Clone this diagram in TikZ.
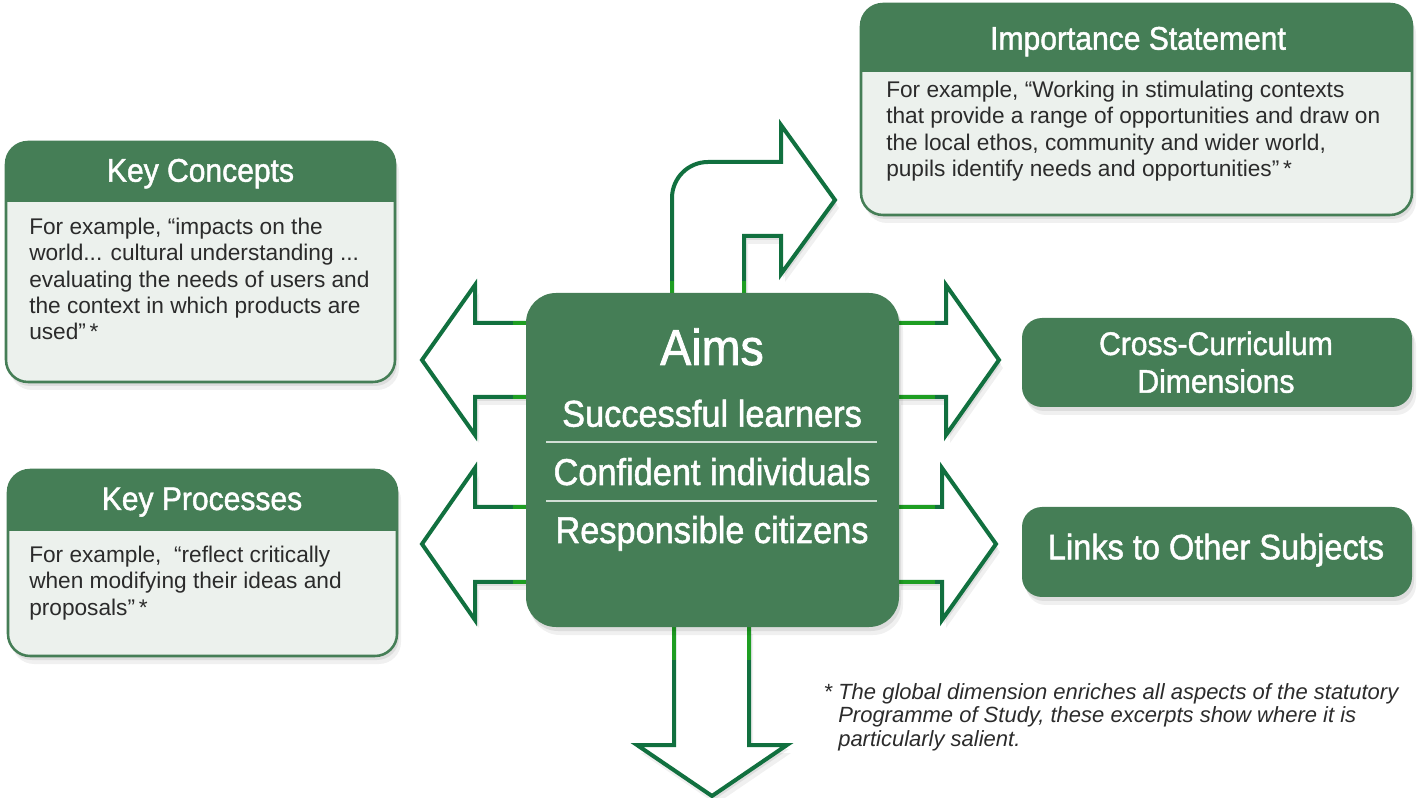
\documentclass[tikz,border=0pt]{standalone}
\usepackage{fontspec}
\setmainfont{Liberation Sans}
\newfontfamily\condfont[FakeStretch=0.92,FakeBold=1.4]{Liberation Sans}
\definecolor{aimgreen}{HTML}{457E56}
\definecolor{arrowgreen}{HTML}{11703F}
\definecolor{jointgreen}{HTML}{1E9E22}
\definecolor{paleback}{HTML}{ECF1ED}
\definecolor{textgray}{HTML}{2B2B2B}

\begin{document}
\begin{tikzpicture}[x=0.75pt,y=0.75pt,yscale=-1,xscale=1,
	softshadow/.style={preaction={fill=black,opacity=0.06,transform canvas={shift={(4,-8)}}},preaction={fill=black,opacity=0.08,transform canvas={shift={(2,-4)}}}},
	blockarrow/.style={draw=arrowgreen,line width=3pt,fill=white,line join=miter,softshadow},
	joint/.style={draw=jointgreen,line width=3pt},
	keybody/.style={fill=paleback,rounded corners=16.5pt},
	keyhead/.style={fill=aimgreen,rounded corners=16.5pt},
	keyline/.style={draw=aimgreen,line width=1.9pt,rounded corners=16.5pt},
	sidebox/.style={fill=aimgreen,rounded corners=15pt,softshadow},
	headtext/.style={anchor=base,inner sep=0pt,text=white,font=\condfont\fontsize{24.5}{28}\selectfont},
	aimtext/.style={anchor=base,inner sep=0pt,text=white,font=\condfont\fontsize{28}{32}\selectfont},
	bodytext/.style={anchor=north west,inner sep=0pt,align=left,text=textgray,font=\fontsize{17}{19.7}\selectfont}
	]
	\useasboundingbox (0,0) rectangle (1422,798);
	
	%Shape: Bent Arrow [id:toparrow]
	\draw [blockarrow] (672,294) -- (672,198) arc (180:270:36) -- (781,162) -- (781,125) -- (835,200) -- (781,274) -- (781,236) -- (744,236) -- (744,294) ;
	%Shape: Left Arrow [id:leftup]
	\draw [blockarrow] (528,323) -- (475,323) -- (475,285) -- (422,360) -- (475,435) -- (475,397) -- (528,397) ;
	%Shape: Left Arrow [id:leftdown]
	\draw [blockarrow] (528,507) -- (475,507) -- (475,468) -- (422,544) -- (475,620) -- (475,582) -- (528,582) ;
	%Shape: Right Arrow [id:rightup]
	\draw [blockarrow] (897,323) -- (946,323) -- (946,285) -- (999,360) -- (946,435) -- (946,397) -- (897,397) ;
	%Shape: Right Arrow [id:rightdown]
	\draw [blockarrow] (897,507) -- (942,507) -- (942,468) -- (996,544) -- (942,620) -- (942,582) -- (897,582) ;
	%Shape: Down Arrow [id:downarrow]
	\draw [blockarrow] (674,626) -- (674,745) -- (637,745) -- (712,796) -- (787,745) -- (749,745) -- (749,626) ;
	
	%Straight Lines [id:joints]
	\draw [joint] (672,281) -- (672,294) (744,281) -- (744,294) ;
	\draw [joint] (513,323) -- (528,323) (513,397) -- (528,397) (513,507) -- (528,507) (513,582) -- (528,582) ;
	\draw [joint] (897,323) -- (935,323) (897,397) -- (935,397) (897,507) -- (935,507) (897,582) -- (935,582) ;
	\draw [joint] (674,626) -- (674,660) (749,626) -- (749,660) ;
	
	%Shape: Rounded Rectangle [id:aimsbox]
	\fill [aimgreen,rounded corners=22.5pt,softshadow] (526,293) rectangle (899,627) ;
	\draw [white!75!aimgreen,line width=0.9pt] (546,442) -- (877,442) ;
	\draw [white!75!aimgreen,line width=0.9pt] (546,501) -- (877,501) ;
	
	%Shape: Rounded Rectangle [id:keyconcepts]
	\fill [keybody,softshadow] (6,142) rectangle (395,382) ;
	\begin{scope}
		\clip (0,130) rectangle (400,202) ;
		\fill [keyhead] (6,142) rectangle (395,382) ;
	\end{scope}
	\draw [keyline] (6,142) rectangle (395,382) ;
	
	%Shape: Rounded Rectangle [id:keyprocesses]
	\fill [keybody,softshadow] (8,470) rectangle (397,656) ;
	\begin{scope}
		\clip (0,460) rectangle (400,531) ;
		\fill [keyhead] (8,470) rectangle (397,656) ;
	\end{scope}
	\draw [keyline] (8,470) rectangle (397,656) ;
	
	%Shape: Rounded Rectangle [id:importance]
	\fill [keybody,softshadow] (861,4) rectangle (1412,215) ;
	\begin{scope}
		\clip (850,0) rectangle (1420,72) ;
		\fill [keyhead] (861,4) rectangle (1412,215) ;
	\end{scope}
	\draw [keyline] (861,4) rectangle (1412,215) ;
	
	%Shape: Rounded Rectangle [id:crossbox]
	\fill [sidebox] (1022,318) rectangle (1412,407) ;
	%Shape: Rounded Rectangle [id:linksbox]
	\fill [sidebox] (1022,507) rectangle (1412,597) ;
	
	% Text Node
	\node [anchor=base,inner sep=0pt,text=white,font=\condfont\fontsize{38}{42}\selectfont] (aimstitle) at (712,365) {Aims};
	% Text Node
	\node [aimtext] (successful) at (712,426.7) {Successful learners};
	% Text Node
	\node [aimtext] (confident) at (712,485) {Confident individuals};
	% Text Node
	\node [aimtext] (responsible) at (712,543) {Responsible citizens};
	
	% Text Node
	\node [headtext] (kctitle) at (200.5,181.7) {Key Concepts};
	% Text Node
	\node [bodytext] (kctext) at (29,218) {For example, “impacts on the\\world... cultural understanding ...\\evaluating the needs of users and\\the context in which products are\\used”\,*};
	% Text Node
	\node [headtext] (kptitle) at (202,510) {Key Processes};
	% Text Node
	\node [bodytext] (kptext) at (29,546) {For example, \ “reflect critically\\when modifying their ideas and\\proposals”\,*};
	% Text Node
	\node [headtext] (istitle) at (1138,49.7) {Importance Statement};
	% Text Node
	\node [bodytext] (istext) at (886,81) {For example, “Working in stimulating contexts\\that provide a range of opportunities and draw on\\the local ethos, community and wider world,\\pupils identify needs and opportunities”\,*};
	% Text Node
	\node [headtext] (crossline1) at (1216,355) {Cross-Curriculum};
	% Text Node
	\node [headtext] (crossline2) at (1216,392.7) {Dimensions};
	% Text Node
	\node [headtext,font=\condfont\fontsize{26.5}{30}\selectfont] (linkstitle) at (1216,559.3) {Links to Other Subjects};
	% Text Node
	\node [anchor=north west,inner sep=0pt,align=left,text=textgray,font=\itshape\fontsize{16.5}{17.8}\selectfont] (footnote) at (838,683) {\llap{*\ }The global dimension enriches all aspects of the statutory\\Programme of Study, these excerpts show where it is\\particularly salient.};
	
\end{tikzpicture}
\end{document}
